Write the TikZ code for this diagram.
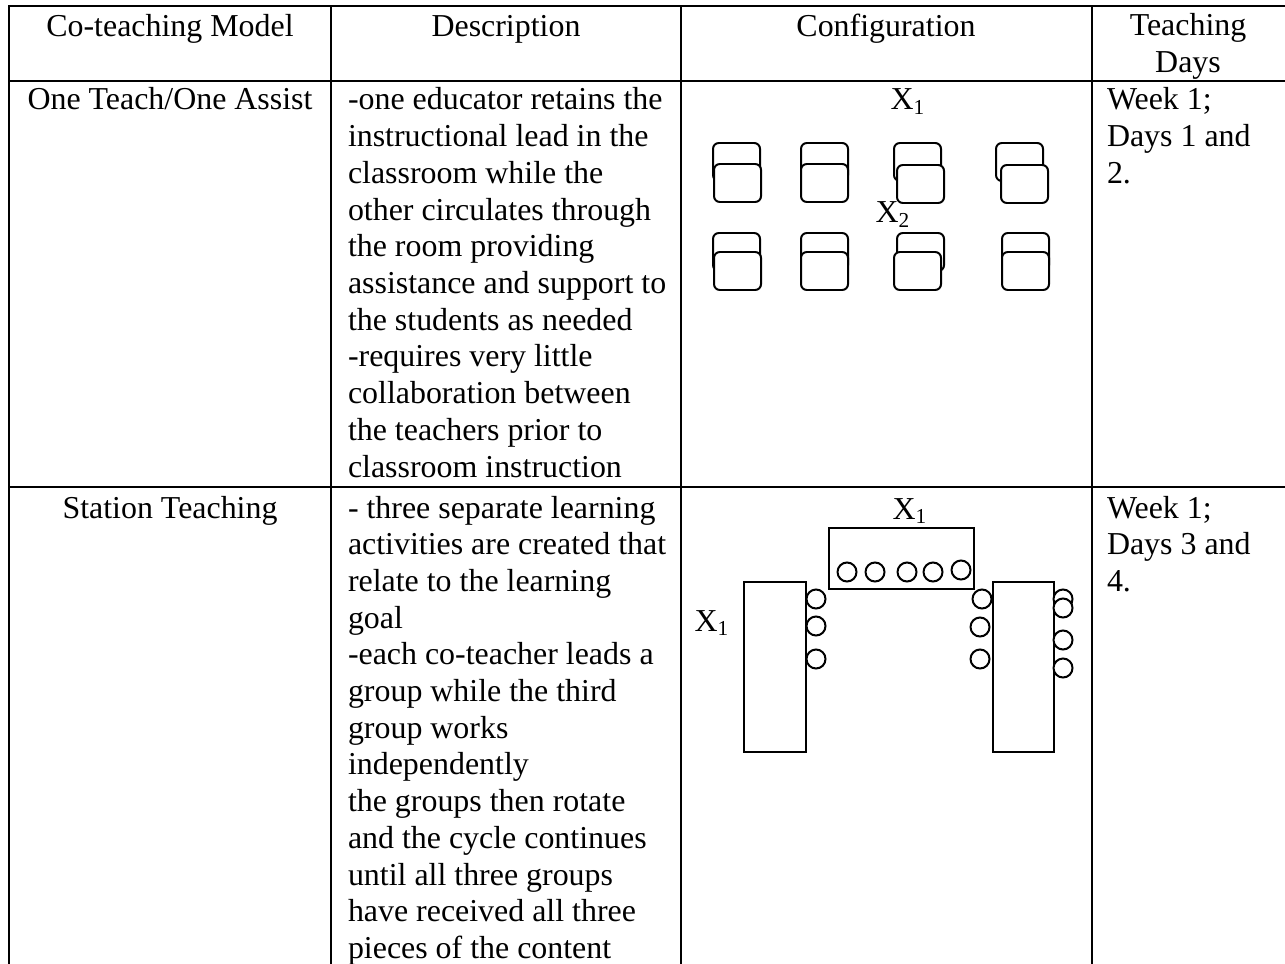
\documentclass[tikz,border=0pt]{standalone}
\usepackage{fontspec}
\setmainfont{Liberation Serif}

\begin{document}
\begin{tikzpicture}[x=0.376pt,y=-0.376pt,line width=0.75pt,
  font=\fontsize{12}{13.8}\selectfont,
  every node/.style={inner sep=0pt},
  cell/.style={anchor=base},
  desc/.style={anchor=base west,align=flush left,text width=150pt},
  desk/.style={draw,fill=white,rounded corners=2.2pt},
  seat/.style={draw,fill=white}]
\useasboundingbox (0,0) rectangle (1285,963);
\clip (0,0) rectangle (1285,963);
% table rules
\draw (9,970) -- (9,6) -- (1290,6);
\draw (9,81) -- (1290,81);
\draw (9,487) -- (1290,487);
\draw (331,6) -- (331,970);
\draw (681,6) -- (681,970);
\draw (1092,6) -- (1092,970);
% header row
\node[cell] (hModel) at (170,37) {Co-teaching Model};
\node[cell] (hDesc) at (506,37) {Description};
\node[cell] (hConfig) at (886,37) {Configuration};
\node[cell,align=center,text width=80pt] (hDays) at (1188,36) {Teaching\\Days};
% one teach / one assist
\node[cell] (mOne) at (170,110) {One Teach/One Assist};
\node[desc] (dOne) at (347,110) {-one educator retains the\\instructional lead in the\\classroom while the\\other circulates through\\the room providing\\assistance and support to\\the students as needed\\-requires very little\\collaboration between\\the teachers prior to\\classroom instruction};
\node[desc] (wOne) at (1106,110) {Week 1;\\Days 1 and\\2.};
\node[cell] (xOneA) at (908,110) {X\textsubscript{1}};
\draw[desk] (713,143) rectangle ++(47,38);
\draw[desk] (714,164) rectangle ++(47,38);
\draw[desk] (801,143) rectangle ++(47,38);
\draw[desk] (801,164) rectangle ++(47,38);
\draw[desk] (894,143) rectangle ++(47,38);
\draw[desk] (897,165) rectangle ++(47,38);
\draw[desk] (996,143) rectangle ++(47,38);
\draw[desk] (1001,165) rectangle ++(47,38);
\draw[desk] (713,233) rectangle ++(47,38);
\draw[desk] (714,252) rectangle ++(47,38);
\draw[desk] (801,233) rectangle ++(47,38);
\draw[desk] (801,252) rectangle ++(47,38);
\draw[desk] (897,233) rectangle ++(47,38);
\draw[desk] (894,252) rectangle ++(47,38);
\draw[desk] (1002,233) rectangle ++(47,38);
\draw[desk] (1002,252) rectangle ++(47,38);
\node[cell] (xOneB) at (893,223) {X\textsubscript{2}};
% station teaching
\node[cell] (mStation) at (170,518) {Station Teaching};
\node[desc] (dStation) at (347,518) {- three separate learning\\activities are created that\\relate to the learning\\goal\\-each co-teacher leads a\\group while the third\\group works\\independently\\the groups then rotate\\and the cycle continues\\until all three groups\\have received all three\\pieces of the content};
\node[desc] (wStation) at (1106,518) {Week 1;\\Days 3 and\\4.};
\node[cell] (xTwoA) at (910,519) {X\textsubscript{1}};
\node[cell] (xTwoB) at (712,631) {X\textsubscript{1}};
\draw (829,528) rectangle (974,589);
\draw (744,582) rectangle (806,752);
\draw (993,582) rectangle (1054,752);
\draw[seat] (847,572) circle[radius=9.5];
\draw[seat] (875,572) circle[radius=9.5];
\draw[seat] (907,572) circle[radius=9.5];
\draw[seat] (933,572) circle[radius=9.5];
\draw[seat] (961,570) circle[radius=9.5];
\draw[seat] (816,599) circle[radius=9.5];
\draw[seat] (816,626) circle[radius=9.5];
\draw[seat] (816,659) circle[radius=9.5];
\draw[seat] (982,599) circle[radius=9.5];
\draw[seat] (980,627) circle[radius=9.5];
\draw[seat] (980,659) circle[radius=9.5];
\draw[seat] (1063,599) circle[radius=9.5];
\draw[seat] (1063,608) circle[radius=9.5];
\draw[seat] (1063,640) circle[radius=9.5];
\draw[seat] (1063,668) circle[radius=9.5];
\end{tikzpicture}
\end{document}
